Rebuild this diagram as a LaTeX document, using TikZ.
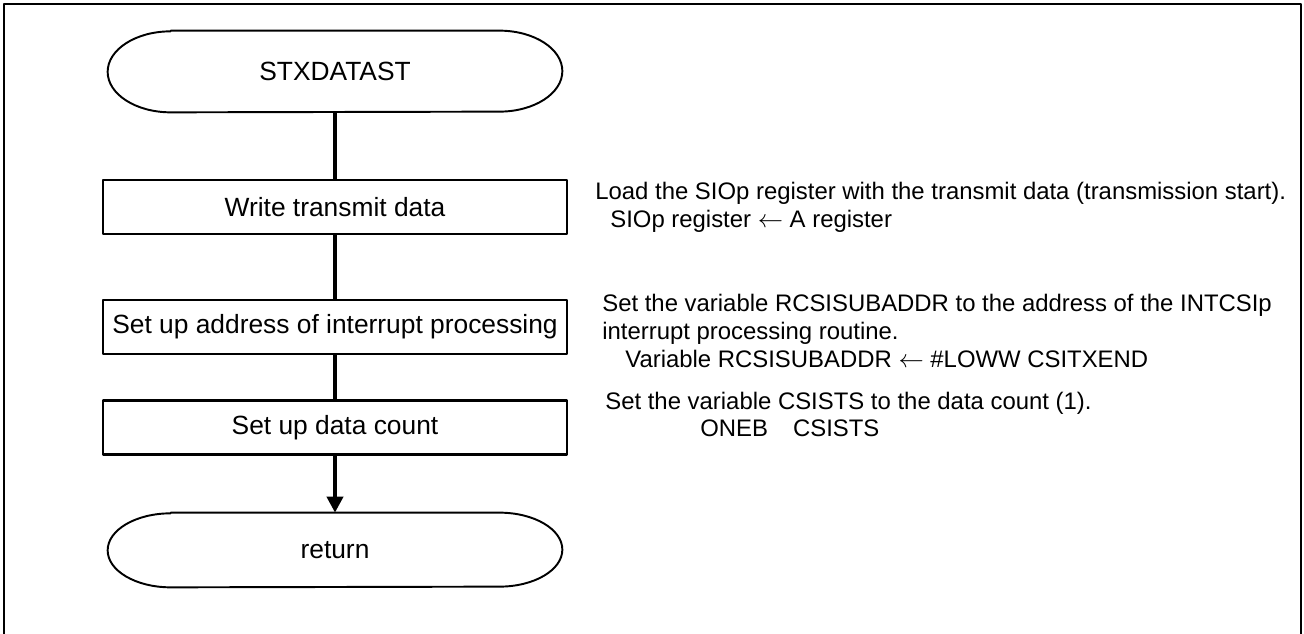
\documentclass[tikz,border=0pt]{standalone}
\usepackage{fontspec}
\setmainfont{Liberation Sans}
\usetikzlibrary{arrows.meta}
\begin{document}
\begin{tikzpicture}[font=\fontsize{15}{18}\selectfont, line join=round,
		frame/.style={line width=1.3pt},
		proc/.style={draw, line width=1.2pt, minimum width=9.28cm, minimum height=1.08cm, inner sep=0pt},
		term/.style={minimum width=9.08cm, inner sep=0pt},
		flow/.style={line width=2.2pt},
		note/.style={anchor=base west, inner sep=0pt, font=\fontsize{13.6}{16}\selectfont}]
	\useasboundingbox (0,0) rectangle (26.08,12.68);
	\draw[frame] (0.08,0) |- (26.02,12.6) -- (26.02,0);
	
	\node[term, minimum height=1.62cm] (stx) at (6.70,11.25) {STXDATAST};
	\node[proc] (wr) at (6.70,8.54) {Write transmit data};
	\node[proc] (addr) at (6.70,6.14) {Set up address of interrupt processing};
	\node[proc] (cnt) at (6.70,4.13) {Set up data count};
	\node[term, minimum height=1.48cm] (ret) at (6.70,1.68) {return};
	
	% terminals with elliptic ends
	\draw[line width=1.1pt] ([xshift=1.26cm]stx.north west) -- ([xshift=-1.26cm]stx.north east)
		arc[start angle=90, end angle=-90, x radius=1.26, y radius=0.81]
		-- ([xshift=1.26cm]stx.south west)
		arc[start angle=270, end angle=90, x radius=1.26, y radius=0.81] -- cycle;
	\draw[line width=1.1pt] ([xshift=1.26cm]ret.north west) -- ([xshift=-1.26cm]ret.north east)
		arc[start angle=90, end angle=-90, x radius=1.26, y radius=0.74]
		-- ([xshift=1.26cm]ret.south west)
		arc[start angle=270, end angle=90, x radius=1.26, y radius=0.74] -- cycle;
	
	\draw[flow] (stx) -- (wr);
	\draw[flow] (wr) -- (addr);
	\draw[flow] (addr) -- (cnt);
	\draw[flow, -{Triangle[length=0.32cm, width=0.32cm]}] (cnt) -- (ret);
	
	% comments on the right
	\node[note] (t1a) at (11.90,8.68) {Load the SIOp register with the transmit data (transmission start).};
	\node[note] (t1b) at (12.20,8.12) {SIOp register $\leftarrow$ A register};
	\node[note] (t2a) at (12.04,6.44) {Set the variable RCSISUBADDR to the address of the INTCSIp};
	\node[note] (t2b) at (12.04,5.88) {interrupt processing routine.};
	\node[note] (t2c) at (12.50,5.32) {Variable RCSISUBADDR $\leftarrow$ \#LOWW CSITXEND};
	\node[note] (t3a) at (12.10,4.48) {Set the variable CSISTS to the data count (1).};
	\node[note] (t3b) at (14.00,3.94) {ONEB\hspace{0.5cm}CSISTS};
\end{tikzpicture}
\end{document}
